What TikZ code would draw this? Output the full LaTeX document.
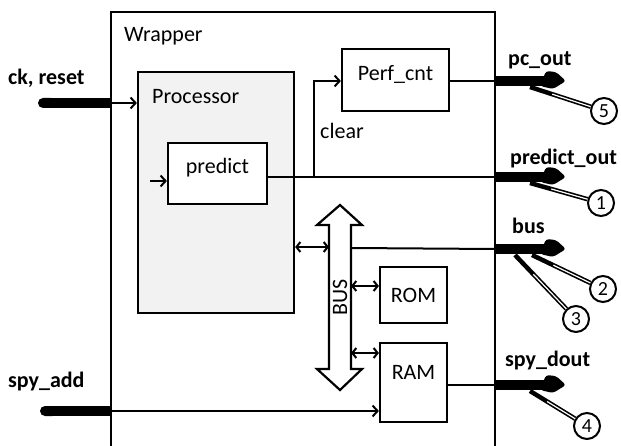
\documentclass[tikz,border=0pt]{standalone}
\usepackage{fontspec}
\setmainfont{Carlito}
\usetikzlibrary{arrows.meta,calc}
\definecolor{procfill}{HTML}{F2F2F2}
\begin{document}
\begin{tikzpicture}[x=1pt,y=-1pt,
  font=\fontsize{22}{26}\selectfont,
  wire/.style={line width=2pt},
  frame/.style={line width=2.2pt},
  box/.style={draw, line width=2.2pt, fill=white, inner sep=0pt},
  tip/.style={-{Straight Barb[length=5pt,width=11pt,line width=2pt]}},
  dtip/.style={{Straight Barb[length=4pt,width=10pt,line width=2pt]}-{Straight Barb[length=4pt,width=10pt,line width=2pt]}},
  inport/.style={line width=10pt, {Round Cap[]}-},
  sig/.style={font=\fontsize{22}{26}\selectfont\bfseries, inner sep=0pt, anchor=base west},
  numc/.style={circle, draw, line width=2pt, fill=white, minimum size=26pt, inner sep=0pt,
    font=\fontsize{20}{22}\selectfont},
  callout/.style={line width=4.5pt},
  calloutcore/.style={line width=1.2pt, white},
  pics/outpin/.style={code={
    \draw[line width=10pt] (0,0) -- (52,0);
    \fill[rounded corners=3pt] (49,-5) -- (51,-10) -- (61,-9) -- (71,0) -- (58,8) -- (45,5) -- cycle;
  }}
]
\useasboundingbox (0,0) rectangle (621,446);

% wrapper frame (open at the bottom)
\coordinate (wbl) at (111,452);
\coordinate (wtl) at (111,12);
\coordinate (wtr) at (495,12);
\coordinate (wbr) at (495,452);
\draw[frame] (wbl) -- (wtl) -- (wtr) -- (wbr);
\node[anchor=west, inner sep=0pt] (wlabel) at (124,36) {Wrapper};

% blocks
\node[box, fill=procfill, minimum width=156pt, minimum height=241pt] (proc) at (216,192.5) {};
\node[anchor=west, inner sep=0pt] (proclabel) at (152,97) {Processor};
\node[box, minimum width=99pt, minimum height=61pt, text height=15pt, text depth=14pt] (pred) at (217.5,173.5) {predict};
\node[box, minimum width=107pt, minimum height=62pt, text height=15pt, text depth=14pt] (perf) at (395.5,80) {Perf\_cnt};
\node[box, minimum width=67pt, minimum height=56pt, text height=16pt, text depth=0pt] (rom) at (413.5,295) {ROM};
\node[box, minimum width=67pt, minimum height=79pt, text height=15pt, text depth=22pt] (ram) at (413.5,382.5) {RAM};

% BUS block arrow
\draw[frame, fill=white, line join=miter] (340,205) -- (362,225) -- (351,225) -- (351,369) -- (362,369)
  -- (340,390) -- (317,369) -- (329,369) -- (329,225) -- (317,225) -- cycle;
\node[rotate=90, inner sep=0pt] (buslabel) at (340,297) {BUS};
\coordinate (busL) at (329,247);
\coordinate (busR) at (351,248);
\coordinate (busROM) at (351,286);
\coordinate (busRAM) at (351,353);

% pins on the wrapper border
\coordinate (ick0) at (38,103);
\coordinate (ick) at (111,103);
\coordinate (isa0) at (40,411);
\coordinate (isa) at (111,411);
\coordinate (operf) at (495,81);
\coordinate (opred) at (495,177);
\coordinate (obus) at (495,249);
\coordinate (ospy) at (495,385);

% inputs
\draw[inport] (ick0) -- (ick);
\draw[wire, tip] (ick) -- (proc.west |- ick);
\draw[inport] (isa0) -- (isa);
\draw[wire, tip] (isa) -- (ram.west |- isa);
\coordinate (pin) at (150,181);
\draw[wire, tip] (pin) -- (pred.west |- pin);
\node[sig] (lck) at (8,85) {ck, reset};
\node[sig] (lsa) at (8,387) {spy\_add};

% internal wiring
\draw[wire] (pred.east |- opred) -- (opred);
\coordinate (clr) at (314,177);
\draw[wire, tip] (clr) |- (perf.west |- operf);
\node[anchor=west, inner sep=0pt] (lclear) at (320,131) {clear};
\draw[wire] (perf.east |- operf) -- (operf);
\draw[wire, dtip] (proc.east |- busL) -- (busL);
\draw[wire] (busR) -- (obus);
\draw[wire, dtip] (busROM) -- (rom.west |- busROM);
\draw[wire, dtip] (busRAM) -- (ram.west |- busRAM);
\draw[wire] (ram.east |- ospy) -- (ospy);

% output pins
\pic at (operf) {outpin};
\pic at (opred) {outpin};
\pic at (obus) {outpin};
\pic at (ospy) {outpin};
\node[sig] (lpc) at (508,66) {pc\_out};
\node[sig] (lpo) at (510,165) {predict\_out};
\node[sig] (lbus) at (512,234) {bus};
\node[sig] (lsd) at (505,366) {spy\_dout};

% numbered callouts
\node[numc] (n5) at (604,111) {5};
\node[numc] (n1) at (601,203) {1};
\node[numc] (n2) at (603,289) {2};
\node[numc] (n3) at (576,319) {3};
\node[numc] (n4) at (587,426) {4};
\coordinate (s5) at (530,87);
\coordinate (s1) at (530,183);
\coordinate (s2) at (532,255);
\coordinate (s3) at (515,255);
\coordinate (s4) at (530,391);
\foreach \s/\n in {s5/n5, s1/n1, s2/n2, s3/n3, s4/n4}{
  \draw[callout] (\s) -- (\n);
  \draw[calloutcore] ($(\s)!0.3!(\n)$) -- (\n);
}
\end{tikzpicture}
\end{document}
